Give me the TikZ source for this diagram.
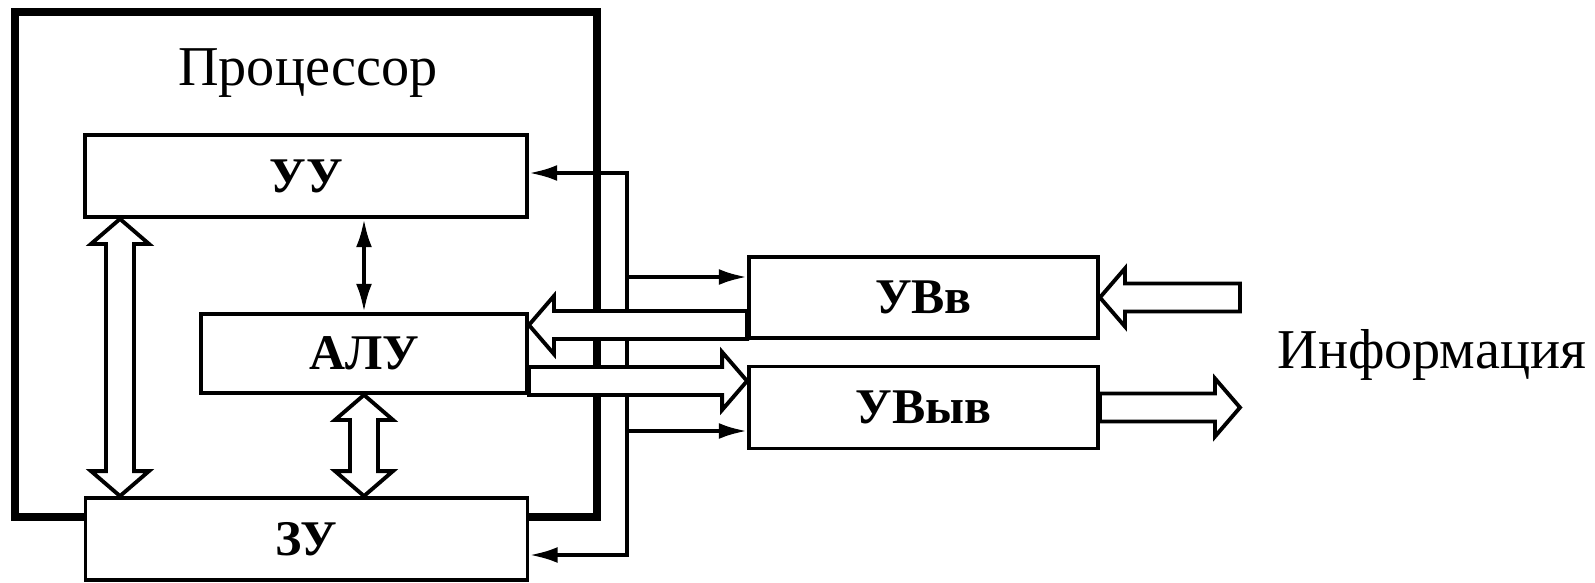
\documentclass[tikz,border=0pt]{standalone}
\usepackage{fontspec}
\setmainfont{Liberation Serif}
\usetikzlibrary{arrows.meta,calc}

\newcommand\hollow[2]{%
  \filldraw[fill=white,line width=1.1pt] let \p1=(#1),\p2=(#2),
    \n1={veclen(\x2-\x1,\y2-\y1)},\n2={atan2(\y2-\y1,\x2-\x1)} in
    [shift={(\p1)},rotate=\n2]
    (0,-1.4mm) -- (\n1-2.5mm,-1.4mm) -- (\n1-2.5mm,-2.9mm) -- (\n1,0)
    -- (\n1-2.5mm,2.9mm) -- (\n1-2.5mm,1.4mm) -- (0,1.4mm) -- cycle;}
\newcommand\hollowboth[2]{%
  \filldraw[fill=white,line width=1.1pt] let \p1=(#1),\p2=(#2),
    \n1={veclen(\x2-\x1,\y2-\y1)},\n2={atan2(\y2-\y1,\x2-\x1)} in
    [shift={(\p1)},rotate=\n2]
    (0,0) -- (2.5mm,2.9mm) -- (2.5mm,1.4mm) -- (\n1-2.5mm,1.4mm) -- (\n1-2.5mm,2.9mm)
    -- (\n1,0) -- (\n1-2.5mm,-2.9mm) -- (\n1-2.5mm,-1.4mm) -- (2.5mm,-1.4mm)
    -- (2.5mm,-2.9mm) -- cycle;}

\begin{document}
\begin{tikzpicture}[>={Latex[length=8pt,width=4.5pt]},
    box/.style={draw,fill=white,line width=1.1pt,minimum height=0.82cm,
      font=\fontsize{14.2}{16}\selectfont\bfseries},
    lbl/.style={font=\fontsize{16}{18}\selectfont},
    wire/.style={line width=1.1pt}]
  \useasboundingbox (0,0) rectangle (15.95,5.82);
  \node[draw,line width=2pt,minimum width=5.82cm,minimum height=5.05cm] (cpu) at (3.06,3.175) {};
  \node[lbl,anchor=base] (cpuname) at (3.08,4.97) {Процессор};
  \node[box,minimum width=4.42cm] (uu) at (3.06,4.06) {УУ};
  \node[box,minimum width=3.26cm,minimum height=0.79cm] (alu) at (3.64,2.285) {АЛУ};
  \node[box,minimum width=4.42cm] (zu) at (3.065,0.43) {ЗУ};
  \node[box,minimum width=3.49cm,minimum height=0.81cm] (uvv) at (9.235,2.845) {УВв};
  \node[box,minimum width=3.49cm] (uvyv) at (9.235,1.745) {УВыв};
  \coordinate (b1) at (6.27,4.09);
  \coordinate (b2) at (6.27,0.27);
  \coordinate (bv) at (6.27,3.05);
  \coordinate (bo) at (6.27,1.51);
  \draw[wire,<->] (uu.east |- b1) -| (b2) -- (zu.east |- b2);
  \foreach \c/\n in {bv/uvv,bo/uvyv}
    \draw[wire,->] (\c) -- (\n.west |- \c);
  \draw[wire,<->] (alu.north |- uu.south) -- (alu.north);
  \coordinate (lb) at (1.2,0);
  \coordinate (h1) at (0,2.57);
  \coordinate (h2) at (0,2.01);
  \coordinate (src) at (12.40,2.845);
  \coordinate (dst) at (12.40,1.745);
  \hollowboth{uu.south -| lb}{zu.north -| lb}
  \hollowboth{alu.south}{alu.south |- zu.north}
  \hollow{uvv.west |- h1}{alu.east |- h1}
  \hollow{alu.east |- h2}{uvyv.west |- h2}
  \hollow{src}{uvv.east}
  \hollow{uvyv.east}{dst}
  \node[lbl,anchor=base west] (info) at (12.65,2.14) {Информация};
\end{tikzpicture}
\end{document}
